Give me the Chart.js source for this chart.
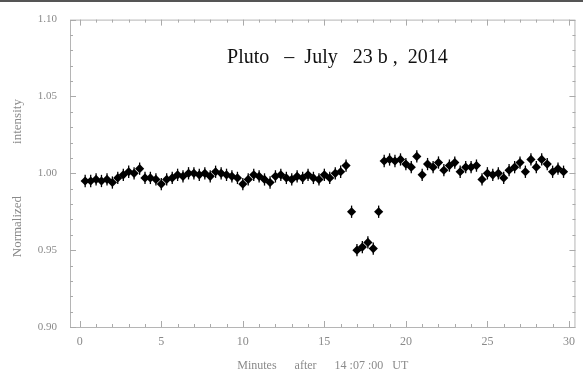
<!DOCTYPE html>
<html>
<head>
<meta charset="utf-8">
<script src="https://cdn.jsdelivr.net/npm/chart.js@4.4.1/dist/chart.umd.min.js"></script>
<style>
  html, body { margin: 0; padding: 0; background: #fff; }
  #wrap { width: 583px; height: 375px; position: relative; }
</style>
</head>
<body>
<div id="wrap"><canvas id="plutoChart"></canvas></div>
<script>
// minutes after 14:07:00 UT
const minutes = [
  0.33, 0.67, 1.0, 1.33, 1.67, 2.0, 2.33, 2.67, 3.0, 3.33,
  3.67, 4.0, 4.33, 4.67, 5.0, 5.33, 5.67, 6.0, 6.33, 6.67,
  7.0, 7.33, 7.67, 8.0, 8.33, 8.67, 9.0, 9.33, 9.67, 10.0,
  10.33, 10.67, 11.0, 11.33, 11.67, 12.0, 12.33, 12.67, 13.0, 13.33,
  13.67, 14.0, 14.33, 14.67, 15.0, 15.33, 15.67, 16.0, 16.33, 16.67,
  17.0, 17.33, 17.67, 18.0, 18.33, 18.67, 19.0, 19.33, 19.67, 20.0,
  20.33, 20.67, 21.0, 21.33, 21.67, 22.0, 22.33, 22.67, 23.0, 23.33,
  23.67, 24.0, 24.33, 24.67, 25.0, 25.33, 25.67, 26.0, 26.33, 26.67,
  27.0, 27.33, 27.67, 28.0, 28.33, 28.67, 29.0, 29.33, 29.67
];
// normalized intensity
const intensity = [
  0.995, 0.995, 0.996, 0.995, 0.996, 0.994, 0.997, 0.999, 1.001, 1.000,
  1.003, 0.997, 0.997, 0.996, 0.993, 0.996, 0.997, 0.999, 0.998, 1.000,
  1.000, 0.999, 1.000, 0.998, 1.001, 1.000, 0.999, 0.998, 0.997, 0.993,
  0.996, 0.999, 0.998, 0.996, 0.994, 0.998, 0.999, 0.997, 0.996, 0.998,
  0.997, 0.999, 0.997, 0.996, 0.999, 0.997, 1.000, 1.001, 1.005, 0.975,
  0.950, 0.952, 0.955, 0.951, 0.975, 1.008, 1.009, 1.008, 1.009, 1.006,
  1.004, 1.011, 0.999, 1.006, 1.004, 1.007, 1.002, 1.005, 1.007, 1.001,
  1.004, 1.004, 1.005, 0.996, 1.000, 0.999, 1.000, 0.997, 1.002, 1.004,
  1.007, 1.001, 1.009, 1.004, 1.009, 1.006, 1.001, 1.003, 1.001
];
const errorBar = 0.004;
const xTicks = [0, 5, 10, 15, 20, 25, 30];
const yTicks = [0.90, 0.95, 1.00, 1.05, 1.10];
const titleText = 'Pluto   \u2013  July   23 b ,  2014';

const points = minutes.map((m, i) => ({ x: m, y: intensity[i] }));
const grey = '#8a8a8a';
const serif = "'Liberation Serif', 'DejaVu Serif', serif";

// frame, inward ticks, error bars, title
const decor = {
  id: 'decor',
  beforeDatasetsDraw(chart) {
    const { ctx, chartArea: a, scales: { x, y } } = chart;
    ctx.save();
    ctx.strokeStyle = '#b5b5b5';
    ctx.lineWidth = 1;
    ctx.strokeRect(a.left + 0.5, a.top + 0.5, a.right - a.left - 1, a.bottom - a.top);
    ctx.strokeStyle = '#aaa';
    for (let v = 0; v <= 30; v++) {
      const px = Math.round(x.getPixelForValue(v)) + 0.5;
      const len = v % 5 === 0 ? 6 : 3;
      ctx.beginPath();
      ctx.moveTo(px, a.bottom); ctx.lineTo(px, a.bottom - len);
      ctx.moveTo(px, a.top); ctx.lineTo(px, a.top + len);
      ctx.stroke();
    }
    for (let k = 0; k <= 20; k++) {
      const v = 0.90 + k * 0.01;
      const py = Math.round(y.getPixelForValue(v)) + 0.5;
      const len = k % 5 === 0 ? 6 : 3;
      ctx.beginPath();
      ctx.moveTo(a.left, py); ctx.lineTo(a.left + len, py);
      ctx.moveTo(a.right, py); ctx.lineTo(a.right - len, py);
      ctx.stroke();
    }
    // error bars
    ctx.strokeStyle = '#000';
    ctx.lineWidth = 1.3;
    points.forEach(p => {
      const px = x.getPixelForValue(p.x);
      ctx.beginPath();
      ctx.moveTo(px, y.getPixelForValue(p.y - errorBar));
      ctx.lineTo(px, y.getPixelForValue(p.y + errorBar));
      ctx.stroke();
    });
    // title inside plot
    ctx.fillStyle = '#111';
    ctx.font = "20px " + serif;
    ctx.textAlign = 'center';
    ctx.textBaseline = 'middle';
    ctx.fillText(titleText, x.getPixelForValue(15.8), y.getPixelForValue(1.075));
    // top border of picture
    ctx.fillStyle = '#555';
    ctx.fillRect(0, 0, chart.width, 2);
    ctx.restore();
  }
};

new Chart(document.getElementById('plutoChart'), {
  type: 'scatter',
  data: {
    datasets: [{
      data: points,
      pointStyle: 'rectRot',
      pointRadius: 4.6,
      backgroundColor: '#000',
      borderColor: '#000',
      borderWidth: 0
    }]
  },
  options: {
    responsive: true,
    maintainAspectRatio: false,
    animation: false,
    layout: { padding: { top: 18, right: 6, left: 0, bottom: 0 } },
    plugins: { legend: { display: false }, tooltip: { enabled: false } },
    scales: {
      x: {
        type: 'linear',
        min: -0.6,
        max: 30.4,
        afterBuildTicks: s => { s.ticks = xTicks.map(v => ({ value: v })); },
        afterFit: s => { s.height = 48; },
        grid: { display: false, drawTicks: false },
        border: { display: false },
        ticks: { color: grey, font: { family: serif, size: 12 }, padding: 8, maxRotation: 0 },
        title: {
          display: true,
          text: 'Minutes      after      14 :07 :00   UT',
          color: grey,
          font: { family: serif, size: 12 },
          padding: { top: 0, bottom: 2 }
        }
      },
      y: {
        min: 0.90,
        max: 1.10,
        afterBuildTicks: s => { s.ticks = yTicks.map(v => ({ value: v })); },
        afterFit: s => { s.width = 70; },
        grid: { display: false, drawTicks: false },
        border: { display: false },
        ticks: { color: grey, font: { family: serif, size: 11 }, padding: 13, callback: v => v.toFixed(2) },
        title: {
          display: true,
          text: 'Normalized                intensity   ',
          color: grey,
          font: { family: serif, size: 13 },
          padding: { top: 10, bottom: 0 }
        }
      }
    }
  },
  plugins: [decor]
});
</script>
</body>
</html>
